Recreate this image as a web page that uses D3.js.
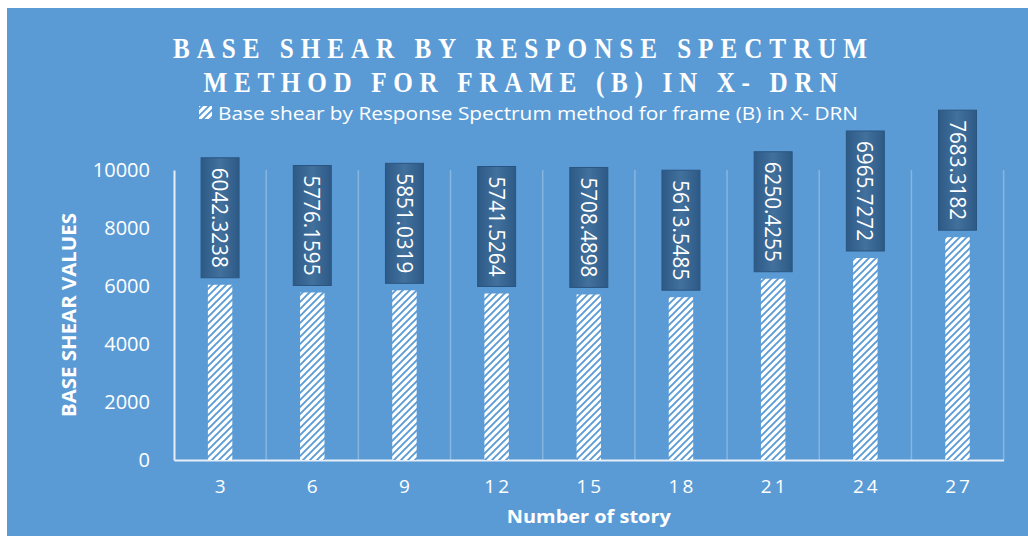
<!DOCTYPE html>
<html>
<head>
<meta charset="utf-8">
<script src="https://cdn.jsdelivr.net/npm/d3@7"></script>
<style>
  html, body { margin: 0; padding: 0; background: #ffffff; }
  svg { display: block; }
</style>
</head>
<body>
<svg id="chart" width="1028" height="536"></svg>
<script>
// Storey counts along the x axis
const stories = ["3", "6", "9", "12", "15", "18", "21", "24", "27"];
// Base shear (response spectrum, frame B, X direction)
const baseShear = [6042.3238, 5776.1595, 5851.0319, 5741.5264, 5708.4898, 5613.5485, 6250.4255, 6965.7272, 7683.3182];
const yTicks = [0, 2000, 4000, 6000, 8000, 10000];

const titleLines = ["BASE SHEAR BY RESPONSE SPECTRUM", "METHOD FOR FRAME (B) IN X- DRN"];
const legendLabel = "Base shear by Response Spectrum method for frame (B) in X- DRN";
const xTitle = "Number of story";
const yTitle = "BASE SHEAR VALUES";

const W = 1028, H = 536;
const plot = { left: 174, right: 1003.6, top: 170, bottom: 460 };
const BG = "#5b9bd5";

const svg = d3.select("#chart");
const defs = svg.append("defs");

// diagonal hatch used for the bars and the legend key
const pat = defs.append("pattern")
  .attr("id", "hatch").attr("patternUnits", "userSpaceOnUse")
  .attr("width", 7).attr("height", 7);
pat.append("rect").attr("width", 7).attr("height", 7).attr("fill", "#ffffff");
pat.append("path").attr("d", "M-2,2 L2,-2 M0,7 L7,0 M5,9 L9,5")
  .attr("stroke", BG).attr("stroke-width", 1.9);

// shading of the value label boxes
const grad = defs.append("linearGradient").attr("id", "boxGrad")
  .attr("x1", "0").attr("x2", "1").attr("y1", "0").attr("y2", "0");
grad.append("stop").attr("offset", "0%").attr("stop-color", "#2d5985");
grad.append("stop").attr("offset", "50%").attr("stop-color", "#42719e");
grad.append("stop").attr("offset", "100%").attr("stop-color", "#2d5985");

// chart background
svg.append("rect").attr("x", 7).attr("y", 8).attr("width", W - 7).attr("height", H - 8).attr("fill", BG);

const x = d3.scaleBand().domain(stories).range([plot.left, plot.right]).padding(0);
const y = d3.scaleLinear().domain([0, 10000]).range([plot.bottom, plot.top]);

// vertical gridlines at category boundaries
const bounds = stories.map(s => x(s) + x.bandwidth());
svg.append("g").selectAll("line").data(bounds).join("line")
  .attr("x1", d => d).attr("x2", d => d)
  .attr("y1", y(10000)).attr("y2", y(0))
  .attr("stroke", "#86b5e0").attr("stroke-width", 1.5);

// axes
const yAxis = svg.append("g").attr("transform", `translate(${plot.left},0)`)
  .call(d3.axisLeft(y).tickValues(yTicks).tickSize(0).tickPadding(24).tickFormat(d3.format("d")));
yAxis.select(".domain").attr("stroke", "#e6eef7").attr("stroke-width", 2);
yAxis.selectAll("text").attr("fill", "#ffffff")
  .style("font-family", "'Open Sans', sans-serif").style("font-size", "20px");

const xAxis = svg.append("g").attr("transform", `translate(0,${plot.bottom})`)
  .call(d3.axisBottom(x).tickSize(0).tickPadding(20));
xAxis.select(".domain").attr("stroke", "#e6eef7").attr("stroke-width", 2);
xAxis.selectAll("text").attr("fill", "#ffffff")
  .style("font-family", "'Open Sans', sans-serif").style("font-size", "19px")
  .style("letter-spacing", "3px").attr("dx", 1.5);

// bars
const barW = x.bandwidth() * 0.265;
const cx = s => x(s) + x.bandwidth() / 2;
svg.append("g").selectAll("rect").data(stories).join("rect")
  .attr("x", (s) => cx(s) - barW / 2)
  .attr("y", (s, i) => y(baseShear[i]))
  .attr("width", barW)
  .attr("height", (s, i) => y(0) - y(baseShear[i]))
  .attr("fill", "url(#hatch)");

// value labels in rotated boxes above each bar
const boxW = 38, boxH = 120, gap = 7;
const lbl = svg.append("g").selectAll("g").data(stories).join("g")
  .attr("transform", (s, i) => `translate(${cx(s)},${y(baseShear[i]) - gap - boxH / 2})`);
lbl.append("rect")
  .attr("x", -boxW / 2).attr("y", -boxH / 2).attr("width", boxW).attr("height", boxH)
  .attr("fill", "url(#boxGrad)").attr("stroke", "#2b5580").attr("stroke-width", 1);
lbl.append("text")
  .attr("transform", "rotate(90)")
  .attr("text-anchor", "middle").attr("dy", "0.36em")
  .attr("textLength", 100).attr("lengthAdjust", "spacingAndGlyphs")
  .attr("fill", "#ffffff")
  .style("font-family", "'Open Sans', sans-serif").style("font-size", "22px")
  .text((s, i) => d3.format(".4f")(baseShear[i]));

// title: narrow serif capitals with letter spacing
const squeeze = 0.84;
function titleLine(txt, cxPos, baseY, len) {
  svg.append("g").attr("transform", `translate(${cxPos},${baseY}) scale(${squeeze},1)`)
    .append("text").attr("x", 0).attr("y", 0).attr("text-anchor", "middle")
    .attr("textLength", len / squeeze).attr("lengthAdjust", "spacing")
    .attr("fill", "#ffffff").style("font-family", "'Liberation Serif', serif")
    .style("font-weight", "bold").style("font-size", "30px")
    .text(txt);
}
titleLine(titleLines[0], 520, 58, 694);
titleLine(titleLines[1], 520.5, 92, 634);

// legend
svg.append("rect").attr("x", 199).attr("y", 106).attr("width", 13).attr("height", 13)
  .attr("fill", "url(#hatch)");
svg.append("text").attr("x", 218).attr("y", 120)
  .attr("textLength", 640).attr("lengthAdjust", "spacingAndGlyphs")
  .attr("fill", "#ffffff").style("font-family", "'Open Sans', sans-serif").style("font-size", "18.5px")
  .text(legendLabel);

// axis titles
svg.append("text").attr("x", (plot.left + plot.right) / 2).attr("y", 523).attr("text-anchor", "middle")
  .attr("textLength", 164).attr("lengthAdjust", "spacingAndGlyphs")
  .attr("fill", "#ffffff").style("font-family", "'Open Sans', sans-serif")
  .style("font-weight", "bold").style("font-size", "18px")
  .text(xTitle);
svg.append("text").attr("transform", "translate(76,315) rotate(-90)").attr("text-anchor", "middle")
  .attr("textLength", 204).attr("lengthAdjust", "spacingAndGlyphs")
  .attr("fill", "#ffffff").style("font-family", "'Open Sans', sans-serif")
  .style("font-weight", "bold").style("font-size", "19px")
  .text(yTitle);
</script>
</body>
</html>
